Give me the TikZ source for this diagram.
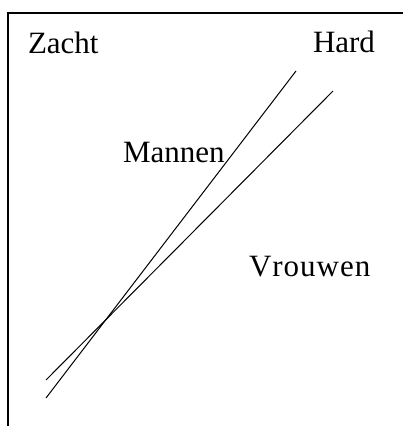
\documentclass[tikz,border=0pt]{standalone}
\usepackage{fontspec}
\setmainfont{Liberation Serif}
\begin{document}
\begin{tikzpicture}[x=1pt,y=1pt,
  lbl/.style={anchor=base west,inner sep=0pt,outer sep=0pt,font=\fontsize{31}{37}\selectfont},
  frame/.style={line width=1.3pt},
  curve/.style={line width=1pt}]
\useasboundingbox (0,0) rectangle (403,426);
% frame (top and left edges)
\coordinate (fb) at (8,0);
\coordinate (ftl) at (8,413);
\coordinate (ftr) at (403,413);
\draw[frame] (fb) -- (ftl) -- (ftr);
% labels
\node[lbl] (zacht) at (28,372) {Zacht};
\node[lbl] (hard) at (313,373) {Hard};
\node[lbl] (mannen) at (123,263) {Mannen};
\node[lbl] (vrouwen) at (249,149) {V\kern1pt r\kern1pt o\kern1pt u\kern1pt w\kern1pt e\kern1pt n};
% lines
\coordinate (a1) at (46,28);
\coordinate (a2) at (296,355);
\coordinate (b1) at (46,46);
\coordinate (b2) at (333,335);
\draw[curve] (a1) -- (a2);
\draw[curve] (b1) -- (b2);
\end{tikzpicture}
\end{document}
